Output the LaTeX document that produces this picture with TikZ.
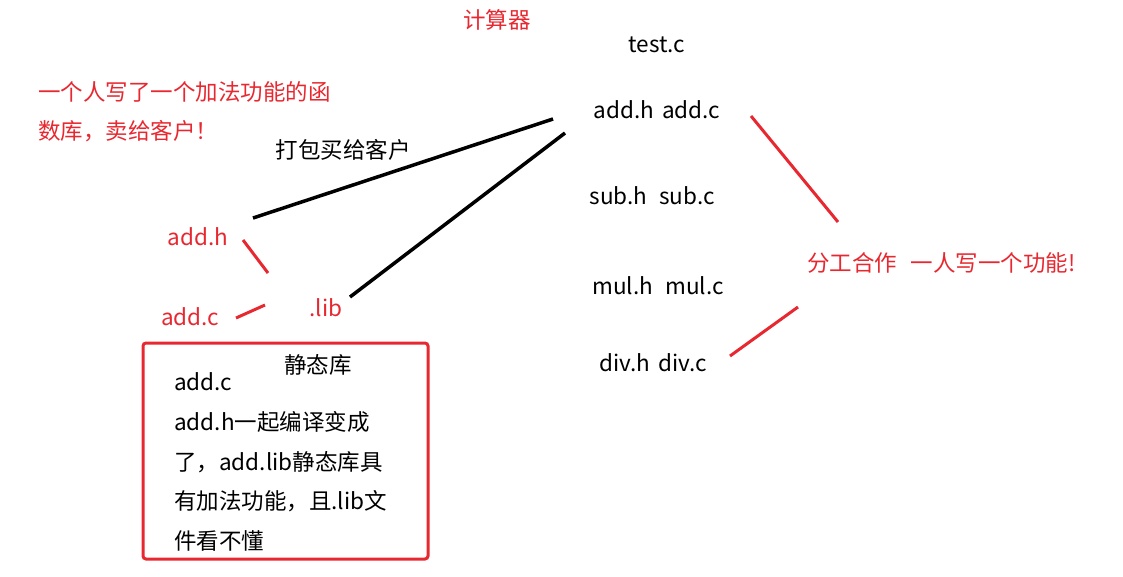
\documentclass[tikz,border=0pt]{standalone}
\usepackage{fontspec}
\setmainfont{Noto Sans CJK SC}
\definecolor{rd}{RGB}{232,40,48}
\begin{document}
\begin{tikzpicture}[x=1pt,y=-1pt,
  t/.style={inner sep=0pt,font=\fontsize{22.5}{26}\selectfont},
  r/.style={t,text=rd},
  bl/.style={line width=3.5pt,black},
  rl/.style={line width=3pt,rd}]
\useasboundingbox (0,0) rectangle (1123,576);
\node[r] (calc) at (497,20) {计算器};
\node[t] (test) at (657,45) {test.c};
\node[r,anchor=west] (p1) at (38,92) {一个人写了一个加法功能的函};
\node[r,anchor=west] (p2) at (38,131) {数库，卖给客户！};
\node[t] (pack) at (343,150) {打包买给客户};
\node[t] (add) at (657,110) {add.h\hspace{8pt}add.c};
\node[t] (sub) at (652,196) {sub.h\hspace{12pt}sub.c};
\node[t] (mul) at (658,286) {mul.h\hspace{12pt}mul.c};
\node[t] (div) at (653,363) {div.h\hspace{8pt}div.c};
\node[r] (ah) at (198,237) {add.h};
\node[r] (ac) at (190,317) {add.c};
\node[r] (lib) at (326,308) {.lib};
\node[r] (fg) at (852,263) {分工合作};
\node[r] (yr) at (993,263) {一人写一个功能!};
\coordinate (a1) at (253,218); \coordinate (a2) at (553,119);
\coordinate (b1) at (350,297); \coordinate (b2) at (565,133);
\draw[bl] (a1) -- (a2);
\draw[bl] (b1) -- (b2);
\coordinate (c1) at (243,240); \coordinate (c2) at (268,273);
\coordinate (d1) at (236,318); \coordinate (d2) at (265,305);
\coordinate (e1) at (751,116); \coordinate (e2) at (838,222);
\coordinate (f1) at (730,356); \coordinate (f2) at (798,307);
\draw[rl] (c1) -- (c2);
\draw[rl] (d1) -- (d2);
\draw[rl] (e1) -- (e2);
\draw[rl] (f1) -- (f2);
\node[draw=rd,line width=3pt,rounded corners=3pt,minimum width=285pt,minimum height=216pt] (box) at (285.5,451) {};
\node[t] (jt) at (318,365) {静态库};
\node[t,anchor=west] (l1) at (174,382) {add.c};
\node[t,anchor=west] (l2) at (174,422) {add.h一起编译变成};
\node[t,anchor=west] (l3) at (174,462) {了，add.lib静态库具};
\node[t,anchor=west] (l4) at (174,501) {有加法功能，且.lib文};
\node[t,anchor=west] (l5) at (174,541) {件看不懂};
\end{tikzpicture}
\end{document}
